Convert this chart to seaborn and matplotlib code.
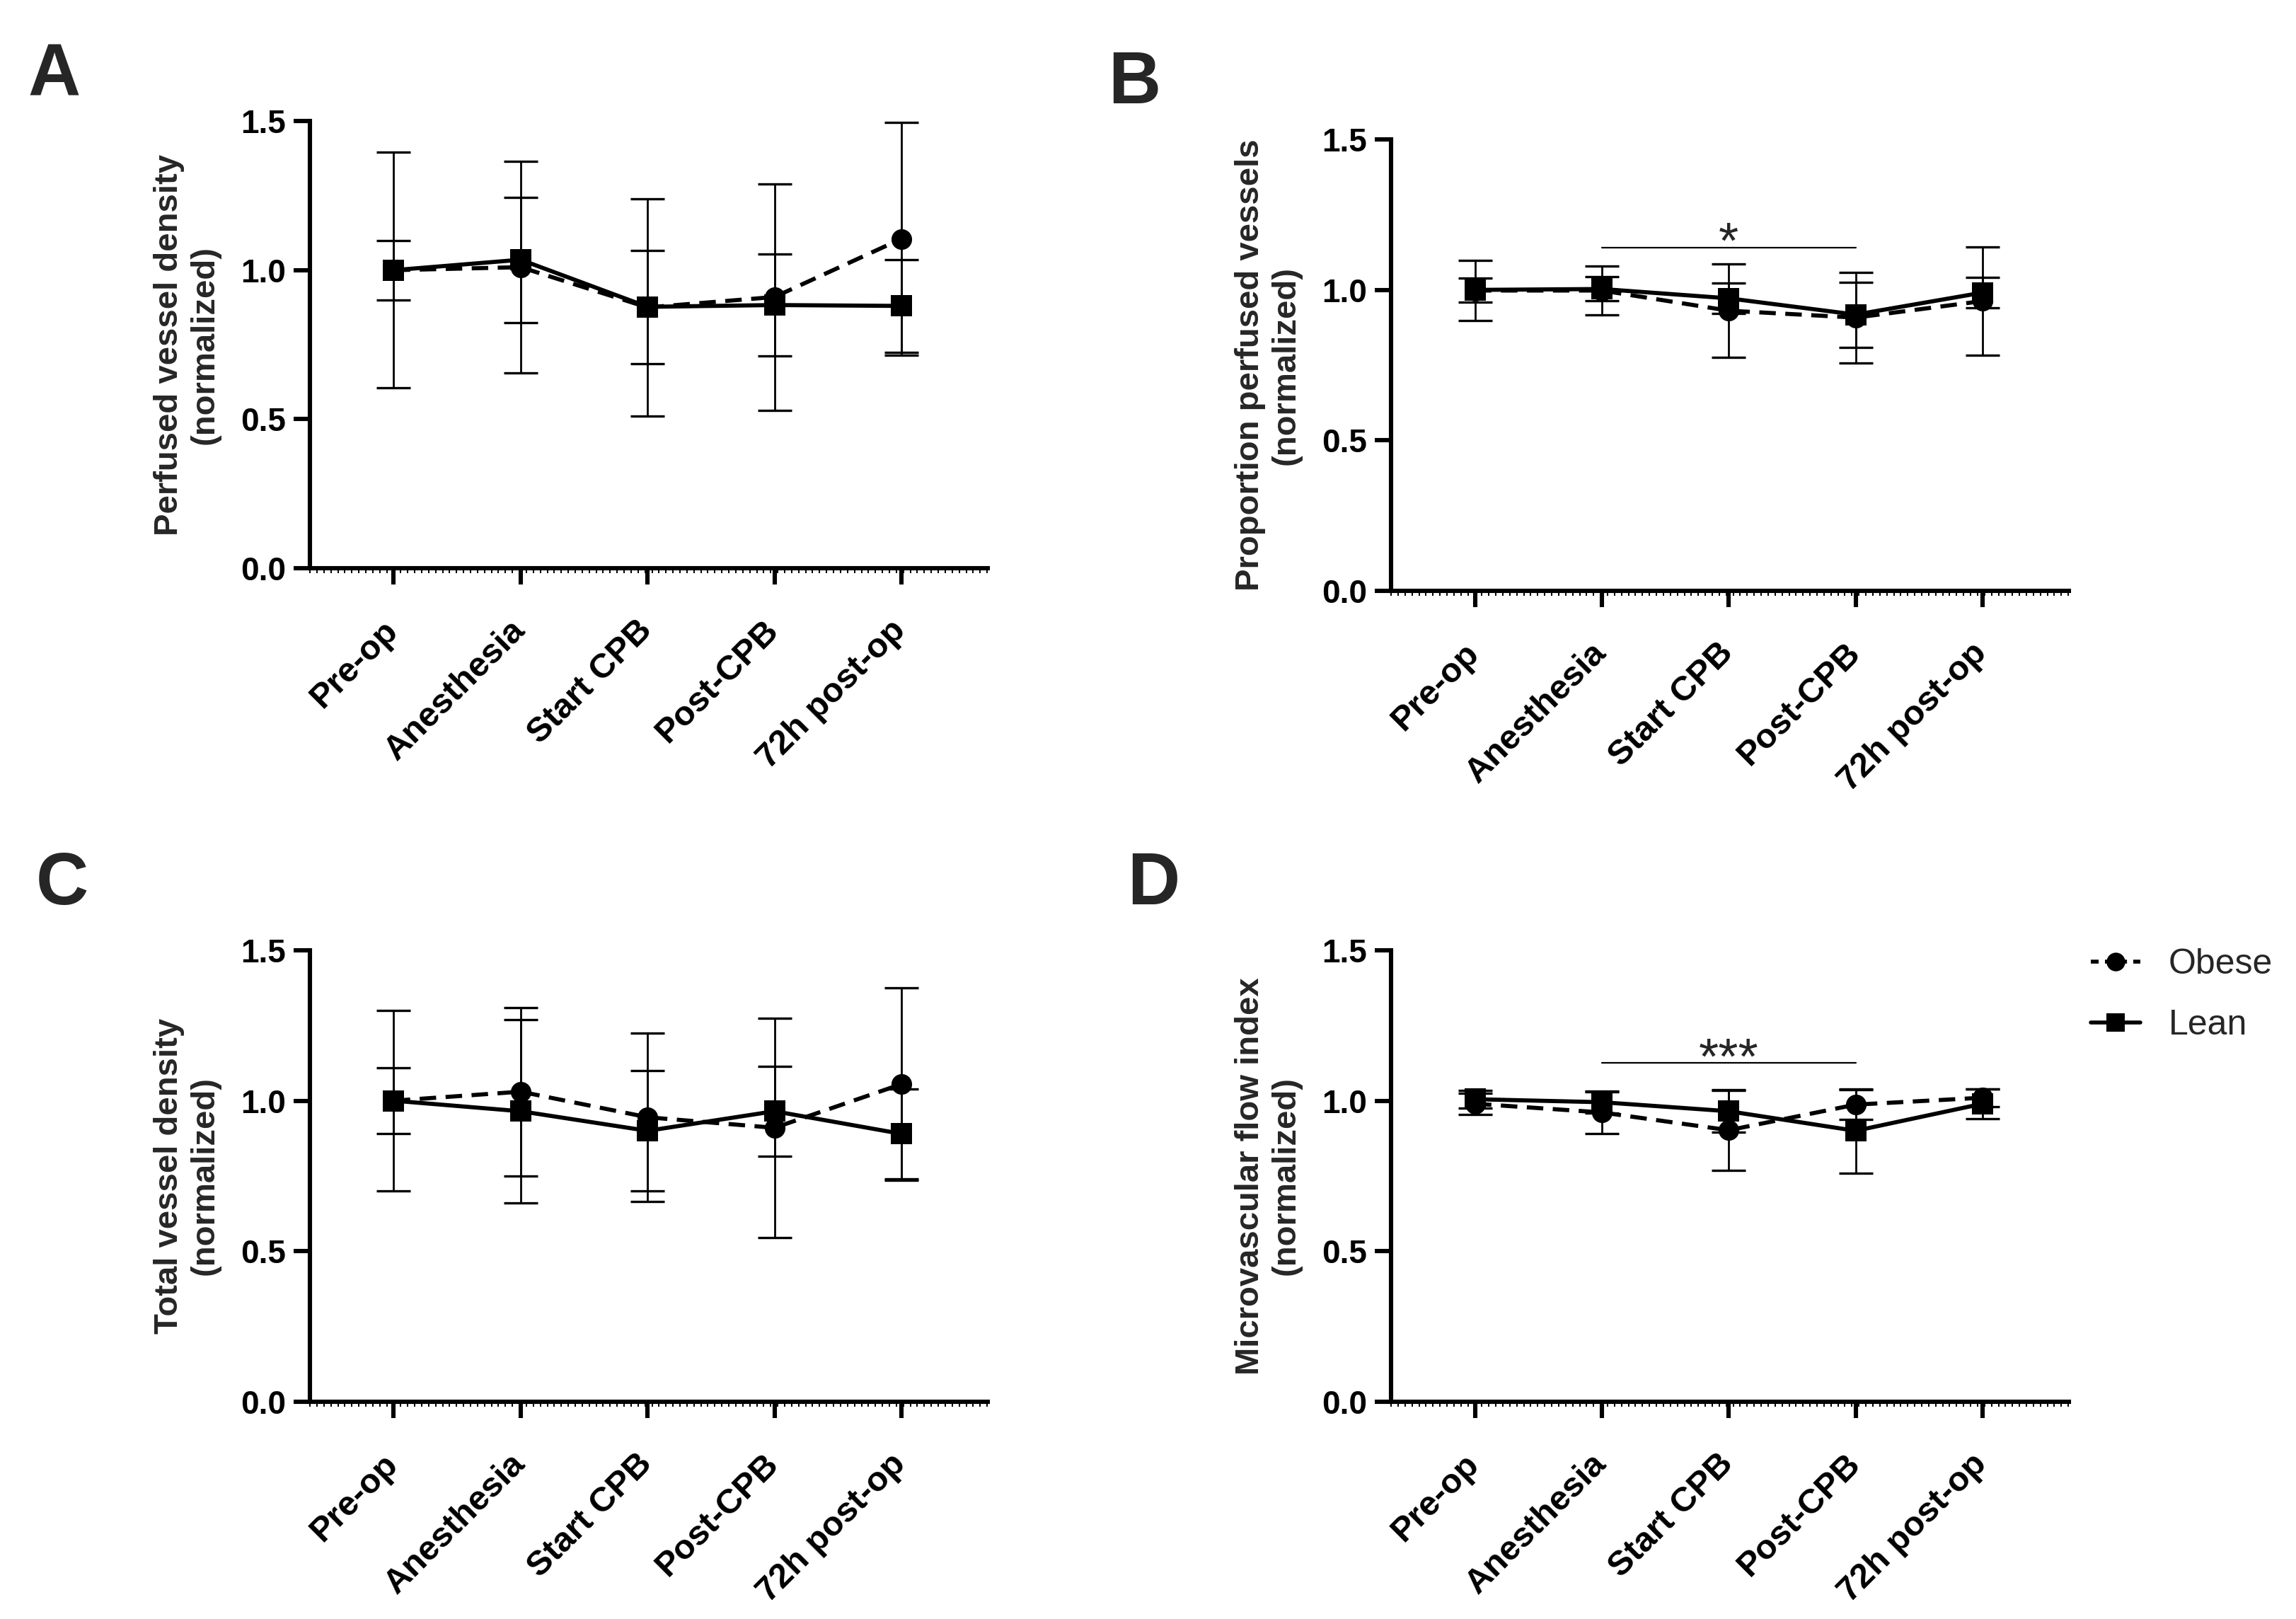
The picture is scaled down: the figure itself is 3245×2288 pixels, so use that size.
import numpy as np
import pandas as pd
import matplotlib
matplotlib.use("Agg")
import matplotlib.pyplot as plt
import matplotlib.transforms as mtransforms
import seaborn as sns
from matplotlib.ticker import MultipleLocator, FormatStrFormatter
from matplotlib.lines import Line2D

timepoints = ["Pre-op", "Anesthesia", "Start CPB", "Post-CPB", "72h post-op"]

# Panel A : perfused vessel density (mean, SD)
a_obese_mean = [1.0, 1.01, 0.875, 0.91, 1.105]
a_obese_sd = [0.395, 0.355, 0.365, 0.38, 0.39]
a_lean_mean = [1.0, 1.035, 0.877, 0.883, 0.88]
a_lean_sd = [0.10, 0.21, 0.19, 0.17, 0.155]

# Panel B : proportion perfused vessels
b_obese_mean = [0.998, 0.998, 0.931, 0.908, 0.963]
b_obese_sd = [0.10, 0.082, 0.155, 0.15, 0.18]
b_lean_mean = [1.0, 1.003, 0.972, 0.918, 0.991]
b_lean_sd = [0.04, 0.04, 0.051, 0.108, 0.05]

# Panel C : total vessel density
c_obese_mean = [1.0, 1.03, 0.945, 0.91, 1.055]
c_obese_sd = [0.30, 0.28, 0.28, 0.365, 0.32]
c_lean_mean = [1.0, 0.965, 0.90, 0.965, 0.89]
c_lean_sd = [0.11, 0.305, 0.20, 0.15, 0.15]

# Panel D : microvascular flow index
d_obese_mean = [0.99, 0.961, 0.902, 0.987, 1.01]
d_obese_sd = [0.035, 0.07, 0.134, 0.05, 0.03]
d_lean_mean = [1.005, 0.995, 0.965, 0.90, 0.99]
d_lean_sd = [0.03, 0.035, 0.07, 0.14, 0.05]

ylabels = [
    "Perfused vessel density\n(normalized)",
    "Proportion perfused vessels\n(normalized)",
    "Total vessel density\n(normalized)",
    "Microvascular flow index\n(normalized)",
]

# significance bars: (panel, from, to, height, label)
sig_bars = [(1, 1, 3, 1.14, "*"), (3, 1, 3, 1.125, "***")]

sns.set_theme(style="ticks")
plt.rcParams["font.family"] = ["Liberation Sans", "DejaVu Sans"]

fig = plt.figure(figsize=(16.225, 11.44), dpi=200)

axes_rects = [
    [0.135, 0.649, 0.2952, 0.2762],
    [0.6059, 0.635, 0.2952, 0.2789],
    [0.135, 0.1342, 0.2952, 0.2789],
    [0.6059, 0.1342, 0.2952, 0.2789],
]

panel_data = [
    (a_obese_mean, a_obese_sd, a_lean_mean, a_lean_sd),
    (b_obese_mean, b_obese_sd, b_lean_mean, b_lean_sd),
    (c_obese_mean, c_obese_sd, c_lean_mean, c_lean_sd),
    (d_obese_mean, d_obese_sd, d_lean_mean, d_lean_sd),
]

x = np.arange(len(timepoints))
label_shift = mtransforms.ScaledTranslation(-6 / 72, -6 / 72, fig.dpi_scale_trans)
axes = []
for i, (rect, (om, osd, lm, lsd)) in enumerate(zip(axes_rects, panel_data)):
    ax = fig.add_axes(rect)
    axes.append(ax)

    df = pd.DataFrame({
        "x": np.concatenate([x, x]),
        "y": om + lm,
        "group": ["Obese"] * 5 + ["Lean"] * 5,
    })

    # error bars behind the lines
    ax.errorbar(x, om, yerr=osd, fmt="none", ecolor="black", elinewidth=1.0,
                capsize=8.5, capthick=1.2, zorder=1.5, clip_on=False)
    ax.errorbar(x, lm, yerr=lsd, fmt="none", ecolor="black", elinewidth=1.0,
                capsize=8.5, capthick=1.2, zorder=1.5, clip_on=False)

    sns.lineplot(data=df, x="x", y="y", style="group", style_order=["Obese", "Lean"],
                 markers={"Obese": "o", "Lean": "s"},
                 dashes={"Obese": (4, 2.3), "Lean": ""},
                 color="black", linewidth=2.1, markersize=10.5, markeredgewidth=0,
                 legend=False, ax=ax, zorder=3)
    for ln in ax.lines:
        ln.set_clip_on(False)

    ax.set_xlim(-0.66, 4.68)
    ax.set_ylim(0, 1.5)
    ax.yaxis.set_major_locator(MultipleLocator(0.5))
    ax.yaxis.set_major_formatter(FormatStrFormatter("%.1f"))
    ax.set_xticks(x)
    ax.set_xlabel("")
    ax.set_ylabel(ylabels[i], fontsize=17, fontweight="bold", labelpad=10)

    sns.despine(ax=ax)
    for side in ["left", "bottom"]:
        ax.spines[side].set_linewidth(2.2)
        ax.spines[side].set_color("black")
    ax.tick_params(axis="both", which="major", length=8.4, width=2.2, color="black",
                   labelcolor="black")
    ax.tick_params(axis="x", which="major", pad=9)
    ax.tick_params(axis="y", which="major", pad=4)
    ax.xaxis.set_minor_locator(MultipleLocator(0.055))
    ax.tick_params(axis="x", which="minor", length=2.5, width=0.7, color="black")
    ax.tick_params(axis="y", which="minor", length=0)

    ax.set_xticklabels(timepoints, rotation=45, ha="right", rotation_mode="anchor",
                       fontsize=17.5, fontweight="bold")
    for lab in ax.get_xticklabels():
        lab.set_transform(lab.get_transform() + label_shift)
    for lab in ax.get_yticklabels():
        lab.set_fontsize(16.5)
        lab.set_fontweight("bold")

for idx, x0, x1, h, label in sig_bars:
    ax = axes[idx]
    ax.plot([x0, x1], [h, h], color="black", linewidth=0.8)
    ax.text((x0 + x1) / 2, h - 0.035, label, ha="center", va="baseline", fontsize=26)

# panel letters
for letter, px, py in [("A", 0.012, 0.9738), ("B", 0.4826, 0.969),
                       ("C", 0.0155, 0.4742), ("D", 0.4909, 0.4742)]:
    fig.text(px, py, letter, fontsize=37, fontweight="bold", ha="left", va="top")

handles = [
    Line2D([], [], color="black", linestyle=(0, (2.0, 1.6)), linewidth=2.0,
           marker="o", markersize=9.5, markeredgewidth=0),
    Line2D([], [], color="black", linestyle="-", linewidth=2.0,
           marker="s", markersize=9.5, markeredgewidth=0),
]
fig.legend(handles, ["Obese", "Lean"], loc="upper left",
           bbox_to_anchor=(0.9106, 0.4142), frameon=False, fontsize=18,
           handlelength=1.4, handletextpad=0.8, labelspacing=0.8,
           borderpad=0, borderaxespad=0)

fig.savefig("out.png", dpi=200)
